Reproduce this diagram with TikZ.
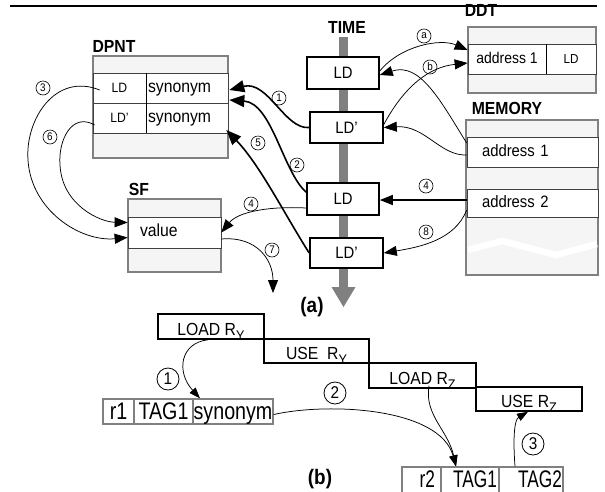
\documentclass[tikz,border=0pt]{standalone}
\usepackage{fontspec}
\setmainfont{Liberation Sans}[FakeStretch=0.9]
\newfontfamily\narrowf{Liberation Sans}[FakeStretch=0.82]
\newfontfamily\narrowerf{Liberation Sans}[FakeStretch=0.72]
\usetikzlibrary{arrows.meta}
\definecolor{framegray}{RGB}{128,128,128}
\definecolor{panelfill}{RGB}{245,245,245}
\newcommand{\fs}[1]{\fontsize{#1}{#1}\selectfont}
\tikzset{
  graybox/.style={draw=framegray, line width=2.2pt, fill=panelfill, inner sep=0pt},
  rowcell/.style={draw=black!75, line width=0.7pt, fill=white, inner sep=0pt, minimum height=30pt, text height=12pt, text depth=4pt},
  ldbox/.style={draw=black, line width=1.6pt, fill=white, inner sep=0pt, font=\fs{16.5}},
  lbl/.style={font=\bfseries\fs{17.5}, inner sep=0pt},
  circa/.style={circle, draw=black, line width=0.6pt, inner sep=0pt, minimum size=14pt, font=\fs{11}},
  circb/.style={circle, draw=black, line width=0.8pt, inner sep=0pt, minimum size=22pt, font=\fs{17}},
  arrthin/.style={line width=0.75pt, -{Triangle[length=13pt,width=10pt]}},
  arrthick/.style={line width=1.6pt, -{Triangle[length=15pt,width=12pt]}},
  arrsmall/.style={line width=0.75pt, -{Triangle[length=11pt,width=8pt]}},
  stepbox/.style={draw=black, line width=1.5pt, fill=white, inner sep=0pt, font=\fs{17.5}, text height=17pt, text depth=0pt},
  tabcell/.style={draw=framegray, line width=1.3pt, inner sep=0pt},
}
\begin{document}
\begin{tikzpicture}[x=1pt,y=-1pt]
\useasboundingbox (0,0) rectangle (605,491);
\clip (0,0) rectangle (605,491);

% ---------- DDT label (partly hidden by top rule) ----------
\node[lbl] (ddtlbl) at (481,10) {DDT};
\draw[line width=2pt] (10,6) -- (597,6);

% ---------- time axis ----------
\node[lbl] (timelbl) at (347,27) {TIME};
\draw[framegray, line width=9pt] (343.5,37) -- (343.5,288);
\fill[framegray] (331.5,287) -- (355.5,287) -- (343.5,307) -- cycle;

\node[ldbox, minimum width=72pt, minimum height=32pt] (ld1) at (343,73) {LD};
\node[ldbox, minimum width=73pt, minimum height=31pt] (ld2) at (346.5,127.5) {LD'};
\node[ldbox, minimum width=72pt, minimum height=32pt] (ld3) at (343,199) {LD};
\node[ldbox, minimum width=73pt, minimum height=30pt] (ld4) at (346.5,253) {LD'};

% ---------- DPNT ----------
\node[lbl] (dpntlbl) at (114,46) {DPNT};
\node[graybox, minimum width=135pt, minimum height=102pt] (dpnt) at (160.5,107) {};
\node[rowcell, minimum width=53pt, font=\fs{13.5}] (dpLD1) at (119.5,88) {LD};
\node[rowcell, minimum width=82pt, text width=78pt, align=left, font=\fs{17.5}] (dpSyn1) at (187,88) {synonym};
\node[rowcell, minimum width=53pt, font=\fs{13.5}] (dpLD2) at (119.5,118) {LD'};
\node[rowcell, minimum width=82pt, text width=78pt, align=left, font=\fs{17.5}] (dpSyn2) at (187,118) {synonym};
\draw[line width=1.5pt] (dpLD1.north east) -- (dpLD2.south east);

% ---------- DDT ----------
\node[graybox, minimum width=128pt, minimum height=66pt] (ddt) at (532,60) {};
\node[rowcell, minimum width=78pt, font=\fs{15.5}] (ddtA) at (507,59) {address 1};
\node[rowcell, minimum width=50pt, font=\fs{13}] (ddtLD) at (571,59) {LD};
\draw[line width=1.5pt] (ddtA.north east) -- (ddtA.south east);

% ---------- MEMORY ----------
\node[lbl] (memlbl) at (507,108) {MEMORY};
\node[graybox, minimum width=132pt, minimum height=155pt] (mem) at (532,197.5) {};
\node[rowcell, minimum width=131pt, text width=101pt, align=left, font=\fs{16.5}] (mem1) at (532.5,152) {address 1};
\node[rowcell, minimum width=131pt, minimum height=28pt, text width=101pt, align=left, font=\fs{16.5}] (mem2) at (532.5,203) {address 2};
\draw[white, line width=6.5pt] (468,250) -- (502,241) -- (556,255) -- (597,244);

% ---------- SF ----------
\node[lbl] (sflbl) at (139,189) {SF};
\node[graybox, minimum width=93pt, minimum height=73pt] (sf) at (174.5,235.5) {};
\node[rowcell, minimum width=93pt, minimum height=31pt, text width=69pt, align=left, font=\fs{17.5}] (sfrow) at (174.5,232.5) {value};

% ---------- connectors (a) ----------
\draw[arrthick] (ld2.west) .. controls (285,130) and (268,80) .. ([xshift=1pt,yshift=-2pt]dpSyn1.east);
\draw[arrthick] ([yshift=-10pt]ld3.north west) .. controls (283,172) and (272,103) .. ([xshift=1pt,yshift=-12pt]dpSyn1.east);
\draw[arrthick] (ld4.west) .. controls (285,215) and (260,165) .. ([xshift=-2pt,yshift=-12pt]dpSyn2.east);
\draw[arrthin] ([yshift=-9pt]ld3.west) .. controls (268,206) and (238,212) .. (sfrow.east);
\coordinate (c7) at (273,293);
\draw[arrthin] ([yshift=-6.5pt]sfrow.east) .. controls (257,236) and (273,260) .. (c7);
\draw[arrthin] ([xshift=7pt,yshift=-2pt]dpLD1.west) .. controls (55,72) and (25,120) .. (28,160)
   .. controls (31,210) and (80,242) .. ([yshift=-5pt]sfrow.west);
\draw[arrthin] ([xshift=2pt,yshift=-7pt]dpLD2.west) .. controls (72,112) and (58,140) .. (60,165)
   .. controls (62,205) and (100,222) .. ([yshift=10pt]sfrow.west);
\draw[arrthin] ([yshift=2pt]ld1.east) .. controls (400,46) and (440,38) .. ([yshift=9pt]ddtA.west);
\draw[arrthin] ([yshift=3pt]ld2.east) .. controls (405,85) and (430,67) .. ([yshift=-4pt]ddtA.west);
\draw[arrthin] ([yshift=9pt]mem1.west) .. controls (440,100) and (420,62) .. ([yshift=-2pt]ld1.east);
\draw[arrthin] ([yshift=-3pt]mem1.west) .. controls (440,156) and (425,125) .. (ld2.east);
\draw[arrthin, line width=1.3pt] ([yshift=3pt]mem2.west) -- ([yshift=-1pt]ld3.east);
\draw[arrthin] ([yshift=-7pt]mem2.west) .. controls (455,240) and (420,247) .. (ld4.east);

% circled labels (a)
\node[circa] (n3) at (43,88) {3};
\node[circa] (n6) at (50,137) {6};
\node[circa] (n1) at (279,98) {1};
\node[circa] (n5) at (258,143) {5};
\node[circa] (n2) at (297,165) {2};
\node[circa] (n4l) at (251,204) {4};
\node[circa] (n7) at (272,250) {7};
\node[circa] (na) at (424,36) {a};
\node[circa] (nb) at (430,67) {b};
\node[circa] (n4r) at (426,186) {4};
\node[circa] (n8) at (426,232) {8};

\node[font=\bfseries\fs{21}, inner sep=0pt] (alabel) at (312,307) {(a)};

% ---------- (b) ----------
\node[stepbox, minimum width=106pt, minimum height=25pt] (stepLY) at (211,326.5) {LOAD R\raisebox{-5pt}{\fs{14}Y}};
\node[stepbox, minimum width=105pt, minimum height=24pt] (stepUY) at (316.5,351) {USE\ \ R\raisebox{-5pt}{\fs{14}Y}};
\node[stepbox, minimum width=107pt, minimum height=25pt] (stepLZ) at (422.5,375.5) {LOAD R\raisebox{-5pt}{\fs{14}Z}};
\node[stepbox, minimum width=106pt, minimum height=24pt] (stepUZ) at (529,399) {USE R\raisebox{-5pt}{\fs{14}Z}};

\node[tabcell, minimum width=31pt, minimum height=25pt, font=\narrowf\fs{24}, text height=19pt, text depth=4pt] (r1a) at (118.5,411.5) {r1};
\node[tabcell, minimum width=59pt, minimum height=25pt, font=\narrowf\fs{24}, text height=19pt, text depth=4pt] (r1b) at (163.5,411.5) {TAG1};
\node[tabcell, minimum width=80pt, minimum height=25pt, font=\narrowf\fs{24}, text height=19pt, text depth=4pt] (r1syn) at (233,411.5) {synonym};

\node[tabcell, minimum width=39pt, minimum height=26pt, font=\narrowerf\fs{24}, text height=18pt, text depth=4pt, text width=27pt, align=right] (r2a) at (421.5,480) {r2};
\node[tabcell, minimum width=58pt, minimum height=26pt, font=\narrowerf\fs{24}, text height=18pt, text depth=4pt, text width=54pt, align=right] (r2tag1) at (470,480) {TAG1};
\node[tabcell, minimum width=64pt, minimum height=26pt, font=\narrowerf\fs{24}, text height=18pt, text depth=4pt, text width=62pt, align=right] (r2tag2) at (531,480) {TAG2};

\draw[arrsmall] ([xshift=-3pt]stepLY.south) .. controls (180,343) and (176,372) .. ([xshift=-33pt]r1syn.north);
\draw[arrsmall] ([yshift=-3pt]r1syn.east) .. controls (330,402) and (440,408) .. ([xshift=-14pt]r2tag1.north);
\draw[arrsmall] ([xshift=6.5pt,yshift=3pt]stepLZ.south) .. controls (424,415) and (448,430) .. ([xshift=-14pt]r2tag1.north);
\draw[arrsmall] ([xshift=-16pt]r2tag2.north) .. controls (513,440) and (514,420) .. ([xshift=-1pt]stepUZ.south);

\node[circb] (m1) at (168,379) {1};
\node[circb] (m2) at (335,393) {2};
\node[circb] (m3) at (533,444) {3};

\node[font=\bfseries\fs{21}, inner sep=0pt] (blabel) at (320,479) {(b)};
\end{tikzpicture}
\end{document}
